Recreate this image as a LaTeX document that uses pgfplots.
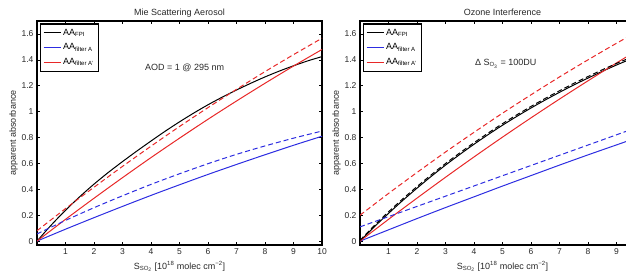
\documentclass[border=0pt]{standalone}
\usepackage{fontspec}
\setmainfont{Liberation Sans}
\usepackage{pgfplots}
\pgfplotsset{compat=1.18}
\definecolor{mred}{RGB}{232,40,40}
\definecolor{mblue}{RGB}{45,45,225}
\definecolor{mtext}{RGB}{40,40,40}
\pgfplotsset{
  every axis title shift=0pt,
  mystyle/.style={
    width=285pt, height=224pt, scale only axis,
    xmin=0, xmax=10, ymin=-0.03, ymax=1.7,
    xtick={1,2,3,4,5,6,7,8,9,10},
    ytick={0,0.2,0.4,0.6,0.8,1,1.2,1.4,1.6}, yticklabels={0,0.2,0.4,0.6,0.8,1,1.2,1.4,1.6},
    tick align=inside, tick pos=both,
    major tick length=3pt,
    every tick/.style={black, line width=0.6pt},
    axis line style={line width=1.2pt},
    tick label style={font=\fontsize{8.5}{10}\selectfont, color=mtext},
    label style={font=\fontsize{9}{11}\selectfont, color=mtext},
    ylabel style={yshift=-3pt},
    title style={font=\fontsize{9}{11}\selectfont, at={(0.5,1)}, anchor=base, yshift=5pt, color=mtext},
    xlabel={S\textsubscript{SO\textsubscript{2}} [10\textsuperscript{18} molec cm\textsuperscript{−2}]},
    ylabel={apparent absorbance},
    legend style={at={(0,1)}, anchor=north west, xshift=2.5pt, yshift=-2.5pt,
      font=\fontsize{9}{10}\selectfont, line width=1.2pt, row sep=3pt, inner ysep=3pt},
    legend cell align=left,
  }
}
\begin{document}
\begin{tikzpicture}
\path[use as bounding box] (0,0) rectangle (626pt,280pt);
\clip (0,0) rectangle (626pt,280pt);
\begin{axis}[mystyle, at={(37pt,35pt)}, anchor=south west, title={Mie Scattering Aerosol},
  xticklabels={1,2,3,4,5,6,7,8,9,10}]
\addplot[black, line width=1pt, smooth] coordinates {(0,0) (0.5,0.124) (1,0.238) (1.5,0.343) (2,0.440) (2.5,0.530) (3,0.614) (3.5,0.695) (4,0.773) (4.5,0.849) (5,0.921) (5.5,0.989) (6,1.053) (6.5,1.112) (7,1.167) (7.5,1.219) (8,1.268) (8.5,1.313) (9,1.354) (9.5,1.392) (10,1.425)};
\addlegendentry{AA\textsubscript{FPI}}
\addplot[mblue, line width=1pt, smooth] coordinates {(0,0) (1,0.092) (2,0.181) (3,0.268) (4,0.353) (5,0.435) (6,0.515) (7,0.592) (8,0.667) (9,0.740) (10,0.810)};
\addlegendentry{AA\textsubscript{filter A}}
\addplot[mred, line width=1pt, smooth] coordinates {(0,0) (1,0.168) (2,0.331) (3,0.490) (4,0.645) (5,0.795) (6,0.941) (7,1.082) (8,1.219) (9,1.352) (10,1.480)};
\addlegendentry{AA\textsubscript{filter A'}}
\addplot[mblue, line width=1pt, dash pattern=on 5pt off 3pt, smooth, forget plot] coordinates {(0,0.055) (1,0.160) (2,0.258) (3,0.350) (4,0.438) (5,0.520) (6,0.598) (7,0.670) (8,0.735) (9,0.795) (10,0.850)};
\addplot[mred, line width=1pt, dash pattern=on 5pt off 3pt, smooth, forget plot] coordinates {(0,0.080) (1,0.251) (2,0.416) (3,0.577) (4,0.733) (5,0.885) (6,1.031) (7,1.172) (8,1.309) (9,1.440) (10,1.567)};
\node[anchor=base west, inner sep=0pt, font=\fontsize{9}{11}\selectfont, color=mtext] at (axis cs:3.79,1.321) {AOD = 1 @ 295 nm};
\end{axis}
\begin{axis}[mystyle, at={(360pt,35pt)}, anchor=south west, title={Ozone Interference},
  xticklabels={1,2,3,4,5,6,7,8,9,{}}]
\addplot[black, line width=1pt, smooth] coordinates {(0,0) (0.5,0.110) (1,0.214) (1.5,0.314) (2,0.409) (2.5,0.500) (3,0.587) (3.5,0.669) (4,0.748) (4.5,0.823) (5,0.895) (5.5,0.963) (6,1.028) (6.5,1.090) (7,1.149) (7.5,1.206) (8,1.259) (8.5,1.311) (9,1.360) (9.5,1.406) (10,1.451)};
\addlegendentry{AA\textsubscript{FPI}}
\addplot[mblue, line width=1pt, smooth] coordinates {(0,0) (1,0.087) (2,0.174) (3,0.259) (4,0.342) (5,0.425) (6,0.506) (7,0.587) (8,0.666) (9,0.743) (10,0.820)};
\addlegendentry{AA\textsubscript{filter A}}
\addplot[mred, line width=1pt, smooth] coordinates {(0,0) (1,0.168) (2,0.332) (3,0.493) (4,0.650) (5,0.803) (6,0.952) (7,1.097) (8,1.238) (9,1.376) (10,1.510)};
\addlegendentry{AA\textsubscript{filter A'}}
\addplot[black, line width=1pt, dash pattern=on 5pt off 3pt, smooth, forget plot] coordinates {(0,0.006) (0.5,0.120) (1,0.226) (1.5,0.326) (2,0.421) (2.5,0.512) (3,0.599) (3.5,0.681) (4,0.760) (4.5,0.835) (5,0.907) (5.5,0.975) (6,1.040) (6.5,1.102) (7,1.161) (7.5,1.218) (8,1.271) (8.5,1.323) (9,1.372) (9.5,1.418) (10,1.463)};
\addplot[mblue, line width=1pt, dash pattern=on 5pt off 3pt, smooth, forget plot] coordinates {(0,0.110) (1,0.189) (2,0.268) (3,0.347) (4,0.426) (5,0.505) (6,0.584) (7,0.663) (8,0.742) (9,0.821) (10,0.900)};
\addplot[mred, line width=1pt, dash pattern=on 5pt off 3pt, smooth, forget plot] coordinates {(0,0.200) (1,0.368) (2,0.530) (3,0.688) (4,0.840) (5,0.988) (6,1.130) (7,1.268) (8,1.400) (9,1.528) (10,1.650)};
\node[anchor=base west, inner sep=0pt, font=\fontsize{9}{11}\selectfont, color=mtext] at (axis cs:4.03,1.354) {Δ S\textsubscript{O\textsubscript{3}} = 100DU};
\end{axis}
\end{tikzpicture}
\end{document}
